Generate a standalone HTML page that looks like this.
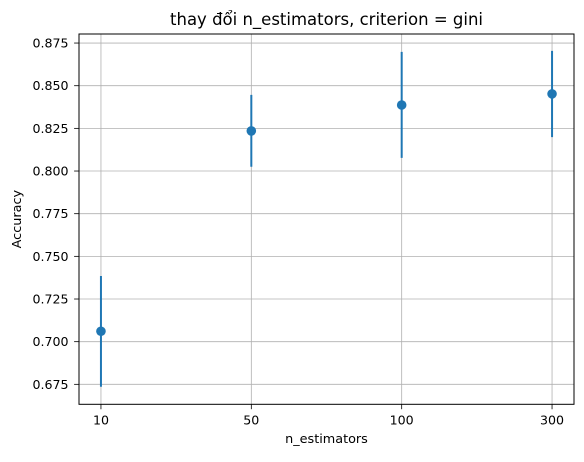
<!DOCTYPE html>
<html><head><meta charset="utf-8"><style>
body{margin:0;background:#fff;font-family:"Liberation Sans","DejaVu Sans",sans-serif;}
svg text{font-family:"DejaVu Sans","Liberation Sans",sans-serif;}
</style></head><body>
<svg id="chart" width="584" height="457" xmlns="http://www.w3.org/2000/svg"></svg>
<script>
const categories = ["10","50","100","300"];
const means = [0.7061,0.8235,0.8387,0.8452];
const errLow = [0.6736,0.8025,0.8077,0.8199];
const errHigh = [0.7385,0.8446,0.8698,0.8704];
const yTicks = [0.675,0.700,0.725,0.750,0.775,0.800,0.825,0.850,0.875];

const L=79,R=574,T=34,B=404.3;
const xMin=-0.146,xMax=3.146,yMin=0.6633,yMax=0.8803;
function xs(i){return L+(i-xMin)/(xMax-xMin)*(R-L);}
function ys(v){return B-(v-yMin)/(yMax-yMin)*(B-T);}
const svg=document.getElementById('chart');
const NS='http://www.w3.org/2000/svg';
function mk(tag,attrs,parent){const e=document.createElementNS(NS,tag);for(const k in attrs)e.setAttribute(k,attrs[k]);(parent||svg).appendChild(e);return e;}

const grid=mk('g',{});


categories.forEach((c,i)=>{const x=xs(i);
 const l=mk('line',{x1:x,x2:x,y1:T,y2:B,stroke:'#b0b0b0','stroke-width':0.8},grid);
 
 
 mk('line',{x1:x,x2:x,y1:B,y2:B+4.9,stroke:'#000','stroke-width':0.8});
 const t=mk('text',{x:x,y:B+20,'text-anchor':'middle','font-size':12.6,fill:'#000'});t.textContent=c;
 
 
});
yTicks.forEach(v=>{const y=ys(v);
 const l=mk('line',{x1:L,x2:R,y1:y,y2:y,stroke:'#b0b0b0','stroke-width':0.8},grid);
 
 
 mk('line',{x1:L-4.9,x2:L,y1:y,y2:y,stroke:'#000','stroke-width':0.8});
 const t=mk('text',{x:L-10.5,y:y+4.5,'text-anchor':'end','font-size':12.6,fill:'#000'});t.textContent=v.toFixed(3);
 
 
});
categories.forEach((c,i)=>{const x=xs(i);
 const e=mk('line',{x1:x,x2:x,y1:ys(errLow[i]),y2:ys(errHigh[i]),stroke:'#1f77b4','stroke-width':2});
 
 
 const p=mk('circle',{cx:x,cy:ys(means[i]),r:4.8,fill:'#1f77b4'});
 
 
});
const frame=mk('rect',{x:L,y:T,width:R-L,height:B-T,fill:'none',stroke:'#000','stroke-width':1});


const title=mk('text',{x:(L+R)/2,y:T-9,'text-anchor':'middle','font-size':16.5,fill:'#000'});title.textContent='thay đổi n_estimators, criterion = gini';


const xl=mk('text',{x:(L+R)/2,y:443,'text-anchor':'middle','font-size':12.8,fill:'#000'});xl.textContent='n_estimators';


const yl=mk('text',{x:0,y:0,'text-anchor':'middle','font-size':12.8,fill:'#000',transform:`translate(21,${(T+B)/2}) rotate(-90)`});yl.textContent='Accuracy';


</script>
</body></html>
